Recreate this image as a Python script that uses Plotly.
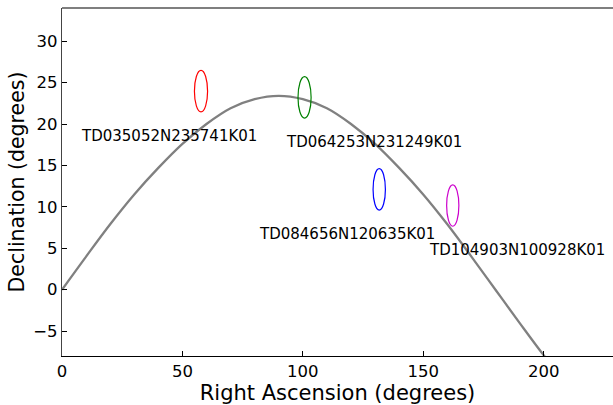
import plotly.graph_objects as go

# Ecliptic curve
curve_ra = [0, 10, 20, 30, 40, 50, 60, 70, 80, 90, 100, 110, 120, 130, 140, 150, 160, 170, 180, 190, 200, 210]
curve_dec = [0, 4.0, 7.9, 11.5, 14.7, 17.6, 20.0, 21.9, 23.0, 23.4, 23.0, 21.9, 20.0, 17.6, 14.7, 11.5, 7.9, 4.0, 0, -4.0, -7.9, -11.5]

# Targets
names = ["TD035052N235741K01", "TD064253N231249K01", "TD084656N120635K01", "TD104903N100928K01"]
target_ra = [57.72, 100.72, 131.73, 162.26]
target_dec = [23.96, 23.21, 12.11, 10.16]
ra_radius = [2.73, 2.72, 2.56, 2.54]
dec_radius = [2.5, 2.5, 2.5, 2.5]
colors = ["red", "green", "blue", "#cc00cc"]
label_ra = [44.5, 129.4, 118.3, 189.0]
label_dec = [18.6, 17.8, 6.75, 4.82]

font = "DejaVu Sans"

fig = go.Figure()
fig.add_trace(go.Scatter(x=curve_ra, y=curve_dec, mode="lines",
                         line=dict(color="gray", width=2.3, shape="spline"),
                         showlegend=False, hoverinfo="skip"))

for ra, dec, rr, dr, c in zip(target_ra, target_dec, ra_radius, dec_radius, colors):
    fig.add_shape(type="circle", xref="x", yref="y",
                  x0=ra - rr, x1=ra + rr, y0=dec - dr, y1=dec + dr,
                  line=dict(color=c, width=1.2))

for n, x, y in zip(names, label_ra, label_dec):
    fig.add_annotation(x=x, y=y, text=n, showarrow=False, xref="x", yref="y",
                       font=dict(family=font, size=15, color="black"),
                       xanchor="center", yanchor="middle")

# top spine
fig.add_shape(type="line", xref="paper", yref="paper", x0=0, x1=1, y0=1, y1=1,
              line=dict(color="#555555", width=1.3))

fig.update_layout(
    width=613, height=405,
    margin=dict(l=62, r=0, t=8, b=49),
    plot_bgcolor="white", paper_bgcolor="white",
    showlegend=False,
    xaxis=dict(range=[0, 228.8], tickvals=[0, 50, 100, 150, 200],
               ticks="inside", ticklen=5, tickcolor="black", tickwidth=1,
               showline=True, linecolor="black", linewidth=1.3,
               showgrid=False, zeroline=False,
               tickfont=dict(family=font, size=16.5, color="black"),
               title=dict(text="Right Ascension (degrees)", standoff=1,
                          font=dict(family=font, size=21, color="black"))),
    yaxis=dict(range=[-8, 34], tickvals=[-5, 0, 5, 10, 15, 20, 25, 30],
               ticktext=["\u22125", "0", "5", "10", "15", "20", "25", "30"],
               ticks="inside", ticklen=5, tickcolor="black", tickwidth=1,
               showline=True, linecolor="#444444", linewidth=1.3,
               showgrid=False, zeroline=False,
               tickfont=dict(family=font, size=16.5, color="black"),
               title=dict(text="Declination (degrees)", standoff=3,
                          font=dict(family=font, size=20.5, color="black"))),
)

fig.write_html("out.html")
